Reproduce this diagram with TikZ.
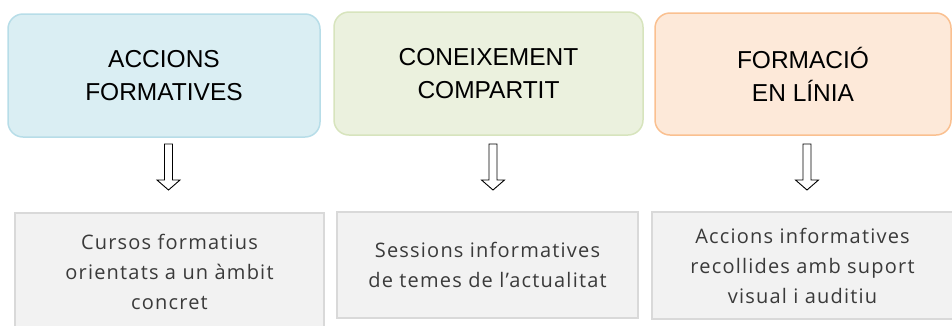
\documentclass[tikz,border=0pt]{standalone}
\usepackage{fontspec}
\setmainfont{Liberation Sans}
\newfontfamily\lowfont[LetterSpace=6]{Open Sans}
\definecolor{bluefill}{HTML}{DAEEF3}
\definecolor{blueline}{HTML}{B7DDE8}
\definecolor{greenfill}{HTML}{EBF1DE}
\definecolor{greenline}{HTML}{D7E4BD}
\definecolor{orangefill}{HTML}{FDE9D9}
\definecolor{orangeline}{HTML}{FAC090}
\definecolor{grayfill}{HTML}{F2F2F2}
\definecolor{grayline}{HTML}{D9D9D9}
\definecolor{lowtext}{HTML}{3A3A3A}
\begin{document}
\begin{tikzpicture}[x=1pt,y=-1pt,
  topbox/.style={rectangle, rounded corners=15pt, line width=1.5pt, align=center,
    inner sep=0pt, font=\fontsize{24.5}{33}\selectfont, text=black},
  lowbox/.style={rectangle, line width=1.5pt, draw=grayline, fill=grayfill, align=center,
    inner sep=0pt, font=\lowfont\fontsize{20}{30}\selectfont, text=lowtext},
  blockarrow/.style={draw=black, fill=white, line width=0.9pt, line join=miter}]
\useasboundingbox (0,0) rectangle (952,325);
\node[topbox, draw=blueline, fill=bluefill, minimum width=312pt, minimum height=123pt] (t1) at (164,75.5) {ACCIONS\\FORMATIVES};
\node[topbox, draw=greenline, fill=greenfill, minimum width=309pt, minimum height=123pt] (t2) at (488.5,73.5) {CONEIXEMENT\\COMPARTIT};
\node[topbox, draw=orangeline, fill=orangefill, minimum width=296pt, minimum height=122pt] (t3) at (803,74) {FORMACIÓ\\EN LÍNIA};
\node[lowbox, minimum width=309pt, minimum height=118pt] (b1) at (169.5,272) {Cursos formatius\\orientats a un àmbit\\concret};
\node[lowbox, minimum width=301pt, minimum height=106pt] (b2) at (487.5,265) {Sessions informatives\\de temes de l’actualitat};
\node[lowbox, minimum width=301pt, minimum height=107pt] (b3) at (802.5,265.5) {Accions informatives\\recollides amb suport\\visual i auditiu};
\coordinate (a1) at (168.5,144);
\coordinate (a2) at (493,144);
\coordinate (a3) at (807,144);
\foreach \a in {a1,a2,a3}{
  \draw[blockarrow] (\a) ++(-4,0) -- ++(0,36) -- ++(-7.5,0) -- ++(11.5,10) -- ++(11.5,-10) -- ++(-7.5,0) -- ++(0,-36) -- cycle;
}
\end{tikzpicture}
\end{document}
